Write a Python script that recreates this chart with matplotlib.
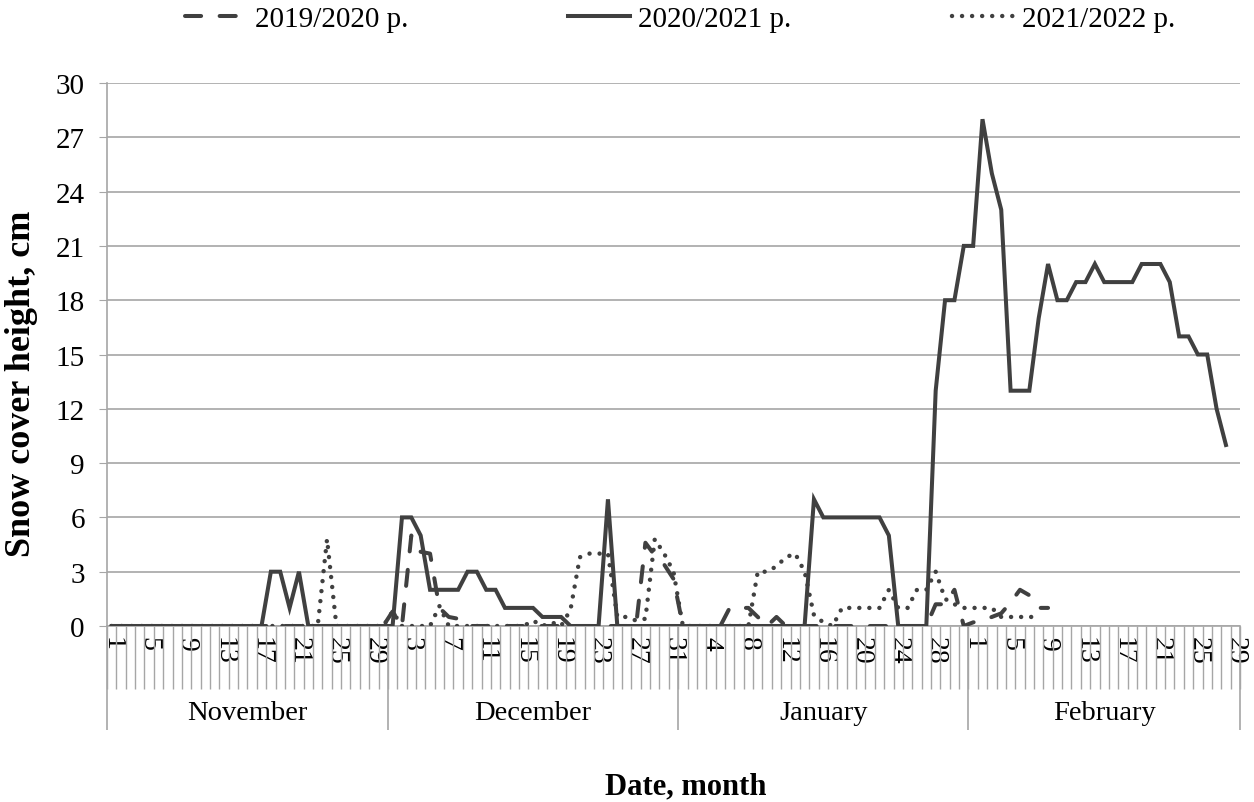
import numpy as np
import matplotlib
matplotlib.use("Agg")
import matplotlib.pyplot as plt

nan = np.nan

months = ["November", "December", "January", "February"]
month_days = [30, 31, 31, 29]

# 2019/2020 (dashed)
s1920_nov = [0] * 30
s1920_dec = [0.8, 0, 5, 4.1, 4, 1, 0.5, 0.4] + [0] * 19 + [4.6, 3.9, 3.4, 2.6]
s1920_jan = [0, 0, 0, 0, 0, 1, 1, 1, 0.5, 0, 0.5] + [0] * 16 + [1.2, 1.2, 2, 0]
s1920_feb = [0.2, 0.3, 0.5, 0.7, 1.3, 2, 1.7, 1, 1] + [nan] * 20

# 2020/2021 (solid)
s2021_nov = [0] * 17 + [3, 3, 1, 3] + [0] * 9
s2021_dec = [0, 6, 6, 5, 2, 2, 2, 2, 3, 3, 2, 2, 1, 1, 1, 1, 0.5, 0.5, 0.5,
             0, 0, 0, 0, 7, 0, 0, 0, 0, 0, 0, 0]
s2021_jan = [0] * 14 + [7, 6, 6, 6, 6, 6, 6, 6, 5, 0, 0, 0, 0, 13, 18, 18, 21]
s2021_feb = [21, 28, 25, 23, 13, 13, 13, 17, 20, 18, 18, 19, 19, 20, 19, 19,
             19, 19, 20, 20, 20, 19, 16, 16, 15, 15, 12, 10, nan]

# 2021/2022 (dotted)
s2122_nov = [0] * 23 + [4.8] + [0] * 6
s2122_dec = [0.8, 0, 0, 0, 0, 1.1] + [0] * 9 + [0.3, 0, 0.2, 0, 0.9, 3.8, 4, 4, 4,
             0.5, 0.5, 0.3, 0.4, 4.8, 4, 3]
s2122_jan = [0] * 8 + [3, 3, 3.3, 3.8, 4, 3, 0.6, 0.2, 0, 1, 1, 1, 1, 1, 2, 1, 1,
             2, 2, 3, 1.5, 1.2, 1]
s2122_feb = [1, 1, 1, 0.5, 0.5, 0.5, 0.5, 0.5] + [nan] * 21

y_ticks = list(range(0, 31, 3))
legend_labels = ["2019/2020 р.", "2020/2021 р.", "2021/2022 р."]

s1920 = np.array(s1920_nov + s1920_dec + s1920_jan + s1920_feb, dtype=float)
s2021 = np.array(s2021_nov + s2021_dec + s2021_jan + s2021_feb, dtype=float)
s2122 = np.array(s2122_nov + s2122_dec + s2122_jan + s2122_feb, dtype=float)

day_labels = []
for n in month_days:
    day_labels += [str(d) for d in range(1, n + 1)]
N = len(day_labels)
x = np.arange(N)

plt.rcParams['font.family'] = ['Liberation Serif', 'DejaVu Serif']

W, H = 1254, 803
fig = plt.figure(figsize=(W / 100, H / 100), dpi=100)
left, right, top, bottom = 107, 1240, 84, 627
ax = fig.add_axes([left / W, 1 - bottom / H, (right - left) / W, (bottom - top) / H])

line_col = '#404040'
grid_col = '#a6a6a6'
lw = 2.9

ax.plot(x, s1920, color=line_col, lw=lw, linestyle=(0, (4.0, 4.6)),
        dash_capstyle='round', label=legend_labels[0], zorder=3)
ax.plot(x, s2021, color=line_col, lw=lw, linestyle='-', solid_joinstyle='miter',
        label=legend_labels[1], zorder=4)
ax.plot(x, s2122, color=line_col, lw=3.2, linestyle=(0, (0.01, 2.25)),
        dash_capstyle='round', label=legend_labels[2], zorder=3)

ax.set_xlim(-0.5, N - 0.5)
ax.set_ylim(0, 30)
ax.set_yticks(y_ticks)
ax.tick_params(axis='y', labelsize=21, length=6, color=grid_col, pad=10)
ax.yaxis.grid(True, color=grid_col, lw=1.2)
ax.set_axisbelow(True)

tick_idx = list(range(0, N, 4))
ax.set_xticks(tick_idx)
ax.set_xticklabels([day_labels[i] for i in tick_idx], rotation=270, fontsize=20)
ax.tick_params(axis='x', length=0, pad=7)

for s in ['top', 'right']:
    ax.spines[s].set_visible(False)
ax.spines['left'].set_color(grid_col)
ax.spines['bottom'].set_color(grid_col)
ax.spines['left'].set_linewidth(1.2)
ax.spines['bottom'].set_linewidth(1.2)

ah = bottom - top
day_line = -(690 - bottom) / ah
month_line = -(731 - bottom) / ah
trans = ax.get_xaxis_transform()
ax.vlines(np.arange(N + 1) - 0.5, day_line, 0, transform=trans, colors=grid_col,
          lw=1, clip_on=False)
bounds = np.concatenate([[0], np.cumsum(month_days)]) - 0.5
ax.vlines(bounds, month_line, 0, transform=trans, colors=grid_col, lw=1.2,
          clip_on=False)
for i, m in enumerate(months):
    ax.text((bounds[i] + bounds[i + 1]) / 2, -(714 - bottom) / ah, m,
            transform=trans, ha='center', va='center', fontsize=20.5)

fig.text(686 / W, 1 - 787 / H, "Date, month", ha='center', va='center',
         fontsize=22, fontweight='bold')
fig.text(22 / W, 1 - 384 / H, "Snow cover height, cm", ha='center', va='center',
         rotation=90, fontsize=26, fontweight='bold')

fig.legend(loc='center', bbox_to_anchor=(680 / W, 1 - 20 / H), ncol=3,
           frameon=False, fontsize=21, handlelength=2.1, handletextpad=0.3,
           columnspacing=5.5, borderaxespad=0)

fig.savefig('out.png', dpi=100)
